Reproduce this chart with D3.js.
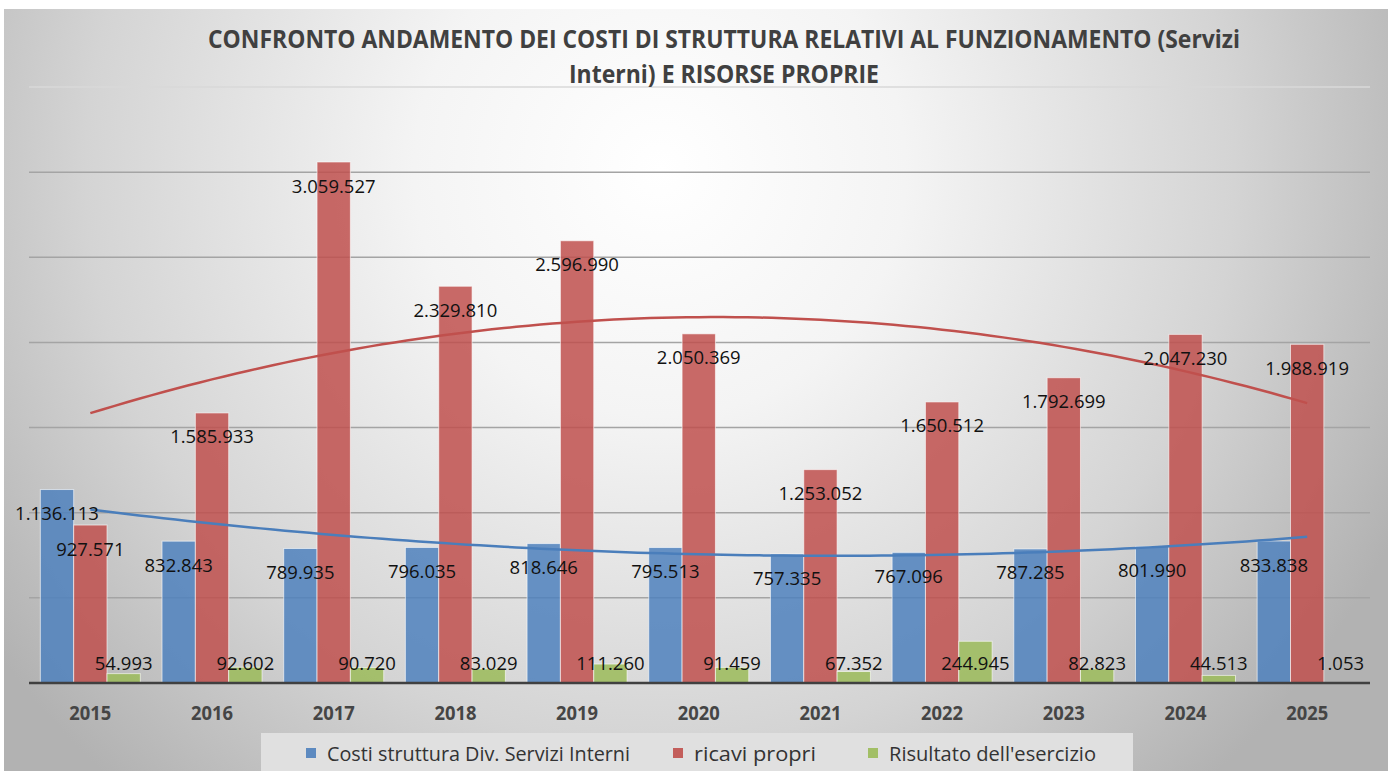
<!DOCTYPE html>
<html><head><meta charset="utf-8">
<script src="https://cdn.jsdelivr.net/npm/d3@7"></script>
<style>html,body{margin:0;padding:0;background:#fff;}svg{display:block;}</style>
</head><body>
<script>
const categories = ["2015","2016","2017","2018","2019","2020","2021","2022","2023","2024","2025"];
const costiStruttura = [1136113, 832843, 789935, 796035, 818646, 795513, 757335, 767096, 787285, 801990, 833838];
const ricaviPropri = [927571, 1585933, 3059527, 2329810, 2596990, 2050369, 1253052, 1650512, 1792699, 2047230, 1988919];
const risultato = [54993, 92602, 90720, 83029, 111260, 91459, 67352, 244945, 82823, 44513, 1053];
const seriesNames = ["Costi struttura Div. Servizi Interni", "ricavi propri", "Risultato dell'esercizio"];
const yTicks = [0, 500000, 1000000, 1500000, 2000000, 2500000, 3000000, 3500000];
const titleLines = ["CONFRONTO ANDAMENTO DEI COSTI DI STRUTTURA RELATIVI AL FUNZIONAMENTO (Servizi", "Interni) E RISORSE PROPRIE"];

const W = 1388, H = 771;
const colors = ["#4F81BD", "#C0504D", "#9BBB59"];
const trendColors = ["#4a7ebb", "#c0504d"];
const FONT = "'Open Sans', 'Liberation Sans', sans-serif";

const svg = d3.select("body").append("svg").attr("width", W).attr("height", H);
const defs = svg.append("defs");
const rg = defs.append("radialGradient").attr("id", "bg").attr("gradientUnits", "userSpaceOnUse")
  .attr("cx", 660).attr("cy", 170).attr("r", 820);
rg.append("stop").attr("offset", "0").attr("stop-color", "#ffffff");
rg.append("stop").attr("offset", "0.3").attr("stop-color", "#f4f4f4");
rg.append("stop").attr("offset", "0.7").attr("stop-color", "#d4d4d4");
rg.append("stop").attr("offset", "1").attr("stop-color", "#b2b2b2");

svg.append("rect").attr("x", 0).attr("y", 0).attr("width", W).attr("height", H).attr("fill", "#ffffff");
svg.append("rect").attr("x", 4).attr("y", 9).attr("width", W - 4).attr("height", H - 9).attr("fill", "url(#bg)");

const x = d3.scaleBand().domain(categories).range([29.5, 1368]).paddingInner(0).paddingOuter(0);
const inner = d3.scaleBand().domain([0, 1, 2]).range([x.bandwidth() / 2 - 50, x.bandwidth() / 2 + 50]);
const y = d3.scaleLinear().domain([0, 3500000]).range([683, 87]);

// gridlines
svg.append("g").selectAll("line").data(yTicks.filter(d => d > 0)).join("line")
  .attr("x1", 29).attr("x2", 1370)
  .attr("y1", d => y(d)).attr("y2", d => y(d))
  .attr("stroke", d => d === 3500000 ? "#d8d8d8" : "#a4a4a4").attr("stroke-width", 1.5);

const series = [costiStruttura, ricaviPropri, risultato];

// bars
series.forEach((vals, si) => {
  svg.append("g").selectAll("rect").data(vals).join("rect")
    .attr("x", (d, i) => x(categories[i]) + inner(si))
    .attr("width", inner.bandwidth())
    .attr("y", d => y(d))
    .attr("height", d => y(0) - y(d))
    .attr("fill", colors[si]).attr("fill-opacity", 0.85)
    .attr("stroke", "#ffffff").attr("stroke-opacity", 0.6).attr("stroke-width", 1);
});

// baseline
svg.append("line").attr("x1", 29).attr("x2", 1370).attr("y1", y(0)).attr("y2", y(0))
  .attr("stroke", "#404040").attr("stroke-width", 2.5);

// polynomial (order 2) least-squares trendlines
function quadFit(vals) {
  let s = [0,0,0,0,0], t = [0,0,0];
  vals.forEach((v, i) => {
    const xi = i + 1;
    for (let k = 0; k < 5; k++) s[k] += Math.pow(xi, k);
    for (let k = 0; k < 3; k++) t[k] += v * Math.pow(xi, k);
  });
  const A = [[s[0], s[1], s[2], t[0]], [s[1], s[2], s[3], t[1]], [s[2], s[3], s[4], t[2]]];
  for (let c = 0; c < 3; c++) {
    for (let r = c + 1; r < 3; r++) {
      const f = A[r][c] / A[c][c];
      for (let k = c; k < 4; k++) A[r][k] -= f * A[c][k];
    }
  }
  const co = [0,0,0];
  for (let r = 2; r >= 0; r--) {
    let sum = A[r][3];
    for (let k = r + 1; k < 3; k++) sum -= A[r][k] * co[k];
    co[r] = sum / A[r][r];
  }
  return xi => co[0] + co[1] * xi + co[2] * xi * xi;
}
const xc = d3.scaleLinear().domain([1, categories.length])
  .range([x(categories[0]) + x.bandwidth() / 2, x(categories[categories.length - 1]) + x.bandwidth() / 2]);
[0, 1].forEach(si => {
  const f = quadFit(series[si]);
  const pts = d3.range(1, categories.length + 0.001, 0.1).map(v => [xc(v), y(f(v))]);
  svg.append("path").attr("d", d3.line()(pts)).attr("fill", "none")
    .attr("stroke", trendColors[si]).attr("stroke-width", 2.5);
});

// data labels
const fmt = v => d3.format(",")(v).replace(/,/g, ".");
series.forEach((vals, si) => {
  svg.append("g").selectAll("text").data(vals).join("text")
    .attr("x", (d, i) => x(categories[i]) + inner(si) + inner.bandwidth() / 2)
    .attr("y", d => si === 2 ? y(0) - 21 : y(d) + 23)
    .attr("text-anchor", "middle").attr("dominant-baseline", "central")
    .attr("font-family", FONT).attr("font-size", 18.5).attr("fill", "#111")
    .text(d => fmt(d));
});

// x axis labels
const xAxis = d3.axisBottom(x).tickSize(0).tickPadding(0);
const gx = svg.append("g").attr("transform", `translate(0,${y(0)})`).call(xAxis);
gx.select(".domain").remove();
gx.selectAll("text").attr("y", 30).attr("dy", 0).attr("dominant-baseline", "central")
  .attr("font-family", FONT).attr("font-size", 19).attr("font-weight", "bold").attr("fill", "#454545")
  .attr("textLength", 42).attr("lengthAdjust", "spacingAndGlyphs");

// title
const tw = [1032, 310];
titleLines.forEach((t, i) => {
  svg.append("text").attr("x", 724).attr("y", 38 + i * 35).attr("text-anchor", "middle")
    .attr("dominant-baseline", "central")
    .attr("font-family", FONT).attr("font-size", 25).attr("font-weight", "bold").attr("fill", "#404040")
    .attr("textLength", tw[i]).attr("lengthAdjust", "spacingAndGlyphs")
    .text(t);
});

// legend
svg.append("rect").attr("x", 261).attr("y", 733).attr("width", 872).attr("height", 40).attr("fill", "#e0e0e0");
const legX = [306, 673, 868];
const legW = [303, 122, 207];
seriesNames.forEach((name, i) => {
  svg.append("rect").attr("x", legX[i]).attr("y", 748).attr("width", 10).attr("height", 10)
    .attr("fill", colors[i]).attr("fill-opacity", 0.9);
  svg.append("text").attr("x", legX[i] + 21).attr("y", 753).attr("dominant-baseline", "central")
    .attr("font-family", FONT).attr("font-size", 20).attr("fill", "#333")
    .attr("textLength", legW[i]).attr("lengthAdjust", "spacingAndGlyphs")
    .text(name);
});
</script>
</body></html>
